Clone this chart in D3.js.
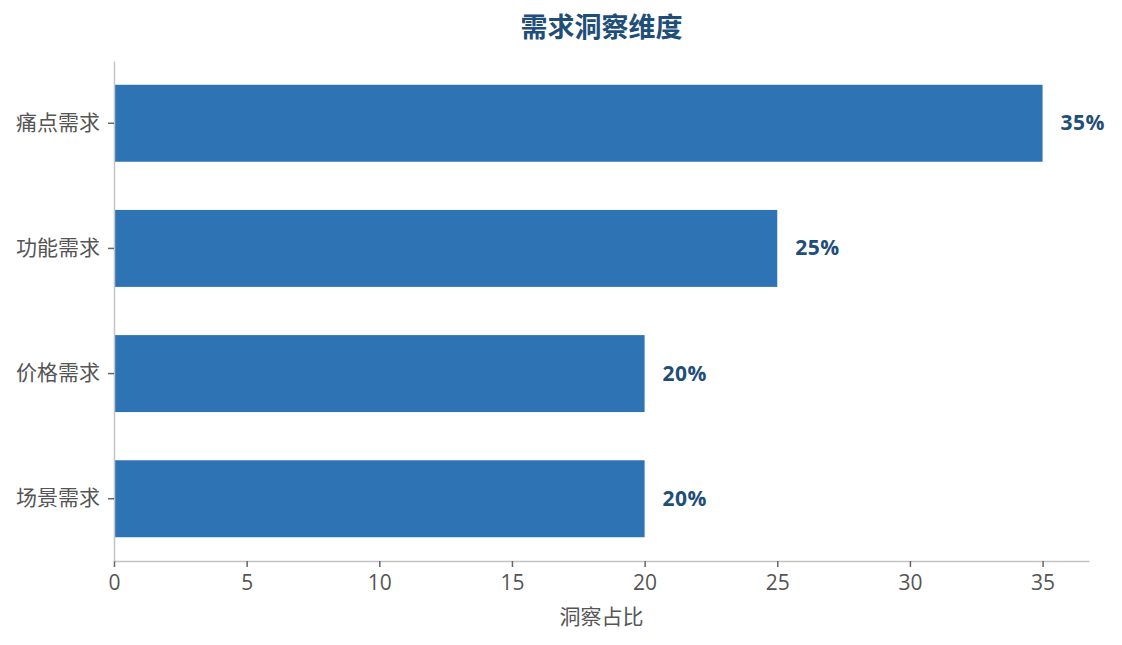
<!DOCTYPE html>
<meta charset="utf-8">
<style type="text/css">
body { margin: 0; background: #fff; }
svg text { font-family: "Open Sans", "Noto Sans CJK SC", sans-serif; }
.axis path, .axis line { stroke: #c4c4c4; stroke-width: 1.5; }
.axis .tick line { stroke: #666; }
.axis text { fill: #555; font-size: 21px; }
.bar { fill: #2e74b5; }
.value { fill: #1f4e79; font-size: 21px; font-weight: bold; letter-spacing: 0.5px; }
</style>
<body>
</body>
<script src="https://d3js.org/d3.v7.min.js"></script>
<script>
// data
var categories = ["痛点需求", "功能需求", "价格需求", "场景需求"];
var values = [35, 25, 20, 20];
var xTicks = [0, 5, 10, 15, 20, 25, 30, 35];

var margin = {top: 61, right: 33, bottom: 84, left: 114}
  , width = 1122 - margin.left - margin.right
  , height = 645 - margin.top - margin.bottom;

var data = categories.map(function(c, i) { return {name: c, value: values[i]}; });

var xScale = d3.scaleLinear()
    .domain([0, d3.max(values) * 1.05])
    .range([0, width]);

var yScale = d3.scaleBand()
    .domain(categories)
    .range([0, height])
    .paddingInner(0.385)
    .paddingOuter(0.19);

var svg = d3.select("body").append("svg")
    .attr("width", 1122)
    .attr("height", 645)
  .append("g")
    .attr("transform", "translate(" + margin.left + "," + margin.top + ")");

// bars
svg.selectAll(".bar")
    .data(data)
  .enter().append("rect")
    .attr("class", "bar")
    .attr("x", 0)
    .attr("y", function(d) { return yScale(d.name); })
    .attr("width", function(d) { return xScale(d.value); })
    .attr("height", yScale.bandwidth());

// value labels
svg.selectAll(".value")
    .data(data)
  .enter().append("text")
    .attr("class", "value")
    .attr("x", function(d) { return xScale(d.value) + 18; })
    .attr("y", function(d) { return yScale(d.name) + yScale.bandwidth() / 2; })
    .attr("dy", "0.33em")
    .text(function(d) { return d.value + "%"; });

// x axis
svg.append("g")
    .attr("class", "axis")
    .attr("transform", "translate(0," + height + ")")
    .call(d3.axisBottom(xScale).tickValues(xTicks).tickSize(6).tickPadding(8).tickSizeOuter(0));

// y axis
svg.append("g")
    .attr("class", "axis")
    .call(d3.axisLeft(yScale).tickSize(6).tickPadding(8).tickSizeOuter(0));

// x axis title
svg.append("text")
    .attr("x", width / 2)
    .attr("y", height + 63)
    .attr("text-anchor", "middle")
    .style("font-size", "21px")
    .style("fill", "#555")
    .text("洞察占比");

// title
svg.append("text")
    .attr("x", width / 2)
    .attr("y", -24)
    .attr("text-anchor", "middle")
    .style("font-size", "27px")
    .style("font-weight", "bold")
    .style("fill", "#1f4e79")
    .text("需求洞察维度");
</script>
